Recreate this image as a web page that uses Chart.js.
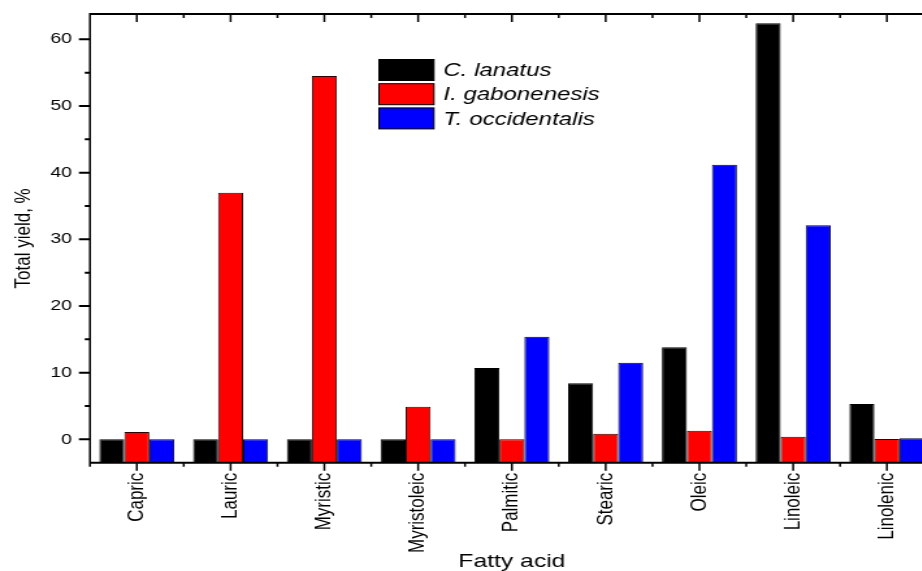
<!DOCTYPE html>
<html>
<head>
<meta charset="utf-8">
<script src="https://cdn.jsdelivr.net/npm/chart.js@4"></script>
<style>
  html, body { margin: 0; padding: 0; background: #fff; overflow: hidden; }
  #wrap { width: 922px; height: 571px; overflow: hidden; }
  /* the original figure is stretched horizontally, so stretch the canvas too */
  #fattyChart { transform: scaleX(1.3); transform-origin: 0 0; display: block; }
</style>
</head>
<body>
<div id="wrap"><canvas id="fattyChart" width="723" height="571"></canvas></div>
<script>
var fattyAcids = ['Capric', 'Lauric', 'Myristic', 'Myristoleic', 'Palmitic', 'Stearic', 'Oleic', 'Linoleic', 'Linolenic'];
var cLanatus = [0, 0, 0, 0, 10.7, 8.4, 13.8, 62.4, 5.3];
var iGabonenesis = [1.1, 37.0, 54.5, 4.9, 0, 0.85, 1.3, 0.4, 0.05];
var tOccidentalis = [0, 0, 0, 0, 15.4, 11.5, 41.2, 32.1, 0.15];
var seriesNames = ['C. lanatus', 'I. gabonenesis', 'T. occidentalis'];
var yTicks = [0, 10, 20, 30, 40, 50, 60];
var yMinorTicks = [5, 15, 25, 35, 45, 55];

var yMin = -3.5;
var yMax = 63.8;

Chart.defaults.font.family = "'Liberation Sans', Arial, sans-serif";
Chart.defaults.color = '#000';

// axis frame, ticks (Origin style) and the inset legend
var framePlugin = {
    id: 'frame',
    afterDraw: function(chart) {
        var ctx = chart.ctx;
        var area = chart.chartArea;
        var xs = chart.scales.x;
        var ys = chart.scales.y;
        ctx.save();
        ctx.strokeStyle = '#000';

        // horizontal lines
        ctx.lineWidth = 2;
        ctx.beginPath();
        ctx.moveTo(area.left, area.bottom); ctx.lineTo(area.right, area.bottom);
        ctx.moveTo(area.left, area.top); ctx.lineTo(area.right, area.top);
        yTicks.forEach(function(v) {
            var p = ys.getPixelForValue(v);
            ctx.moveTo(area.left - 8.5, p); ctx.lineTo(area.left, p);
        });
        yMinorTicks.forEach(function(v) {
            var p = ys.getPixelForValue(v);
            ctx.moveTo(area.left - 4, p); ctx.lineTo(area.left, p);
        });
        ctx.stroke();

        // vertical lines
        ctx.lineWidth = 1.5;
        ctx.beginPath();
        ctx.moveTo(area.left, area.top - 1); ctx.lineTo(area.left, area.bottom + 1);
        ctx.moveTo(area.right, area.top - 1); ctx.lineTo(area.right, area.bottom + 1);
        for (var i = 0; i < fattyAcids.length; i++) {
            var px = xs.getPixelForValue(i);
            ctx.moveTo(px, area.bottom); ctx.lineTo(px, area.bottom + 8);
            ctx.moveTo(px, area.top); ctx.lineTo(px, area.top + 8);
        }
        for (var j = 0; j <= fattyAcids.length; j++) {
            var mx = xs.getPixelForValue(j - 0.5);
            ctx.moveTo(mx, area.bottom); ctx.lineTo(mx, area.bottom + 4);
            ctx.moveTo(mx, area.top); ctx.lineTo(mx, area.top + 4);
        }
        ctx.stroke();

        // legend
        var boxX = 291.5, boxW = 42.3, boxH = 21, rowTop = 59.5, pitch = 24.2, textX = 341;
        ctx.font = "italic 18.5px 'Liberation Sans', Arial, sans-serif";
        ctx.textBaseline = 'middle';
        ctx.textAlign = 'left';
        chart.data.datasets.forEach(function(ds, k) {
            var y0 = rowTop + k * pitch;
            ctx.fillStyle = ds.backgroundColor;
            ctx.fillRect(boxX, y0, boxW, boxH);
            ctx.lineWidth = 1;
            ctx.strokeStyle = '#000';
            ctx.strokeRect(boxX, y0, boxW, boxH);
            ctx.fillStyle = '#000';
            ctx.fillText(ds.label, textX, y0 + boxH / 2 + 1);
        });
        ctx.restore();
    }
};

var ctx = document.getElementById('fattyChart');

var myChart = new Chart(ctx, {
    type: 'bar',
    data: {
        labels: fattyAcids,
        datasets: [{
            label: seriesNames[0],
            data: cLanatus,
            backgroundColor: '#000000',
            borderColor: '#000000',
            borderWidth: 1,
            base: yMin
        }, {
            label: seriesNames[1],
            data: iGabonenesis,
            backgroundColor: '#ff0000',
            borderColor: '#300000',
            borderWidth: 1,
            base: yMin
        }, {
            label: seriesNames[2],
            data: tOccidentalis,
            backgroundColor: '#0000ff',
            borderColor: '#000030',
            borderWidth: 1,
            base: yMin
        }]
    },
    options: {
        responsive: false,
        animation: false,
        events: [],
        layout: { padding: { top: 14, right: 4.7, bottom: 0, left: 0 } },
        plugins: {
            legend: { display: false },
            tooltip: { enabled: false }
        },
        datasets: {
            bar: { categoryPercentage: 0.8, barPercentage: 1.0 }
        },
        scales: {
            x: {
                offset: true,
                grid: { display: false, drawTicks: false },
                border: { display: false },
                ticks: {
                    autoSkip: false,
                    maxRotation: 90,
                    minRotation: 90,
                    padding: 10,
                    font: { size: 17 }
                },
                title: {
                    display: true,
                    text: 'Fatty acid',
                    font: { size: 19, lineHeight: 1 },
                    padding: { top: 0, bottom: 0 }
                },
                afterFit: function(scale) {
                    scale.height = 108.3;
                    scale.paddingLeft = 0;
                    scale.paddingRight = 0;
                }
            },
            y: {
                min: yMin,
                max: yMax,
                grid: { display: false, drawTicks: false },
                border: { display: false },
                ticks: {
                    padding: 13.8,
                    font: { size: 15 }
                },
                afterBuildTicks: function(scale) {
                    scale.ticks = yTicks.map(function(v) { return { value: v }; });
                },
                title: {
                    display: true,
                    text: 'Total yield, %',
                    font: { size: 17, lineHeight: 1.2 },
                    padding: { top: 8, bottom: 0 }
                },
                afterFit: function(scale) {
                    scale.width = 69.2;
                    scale.paddingTop = 0;
                    scale.paddingBottom = 0;
                }
            }
        }
    },
    plugins: [framePlugin]
});
</script>
</body>
</html>
